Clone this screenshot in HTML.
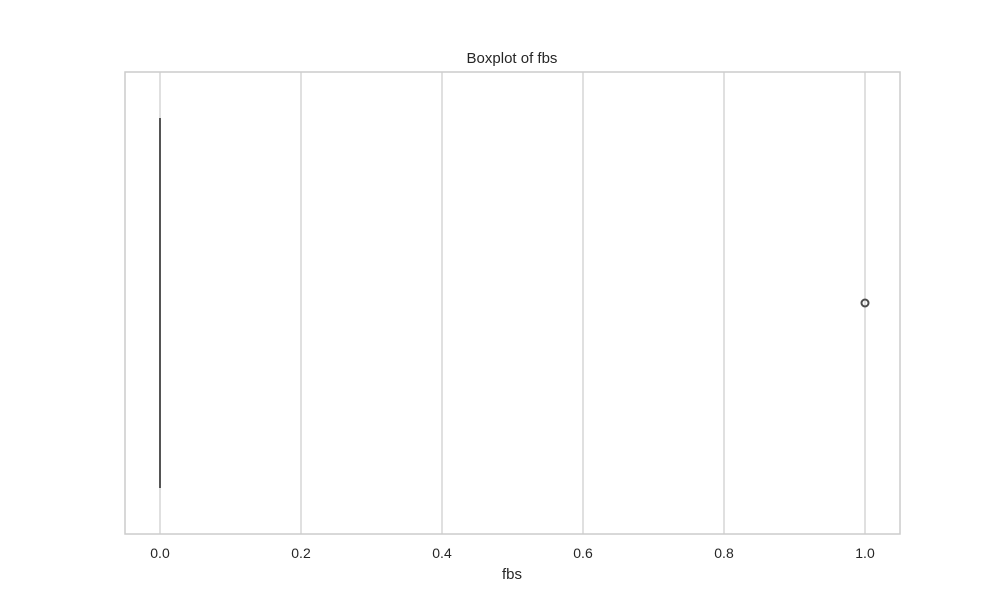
<!DOCTYPE html>
<html><head><meta charset="utf-8"><style>
body{margin:0;background:#fff;}
svg text{font-family:"Liberation Sans","DejaVu Sans",sans-serif;fill:#262626;}
</style></head><body>
<svg id="chart" width="1000" height="600" xmlns="http://www.w3.org/2000/svg">
<g id="grid"></g>
<g id="ticks"></g>
<g id="marks"></g>
<rect x="125" y="72" width="775" height="462" fill="none" stroke="#cccccc" stroke-width="1.5"/>
<text x="512" y="63" text-anchor="middle" font-size="15">Boxplot of fbs</text>
<text x="512" y="579" text-anchor="middle" font-size="15">fbs</text>
</svg>
<script>
const tickValues=[0,0.2,0.4,0.6,0.8,1.0];
const tickLabels=["0.0","0.2","0.4","0.6","0.8","1.0"];
const boxStats=[0,0,0,0,0]; // whiskerLow,q1,median,q3,whiskerHigh
const outliers=[1];
const NS="http://www.w3.org/2000/svg";
const x=v=>160+v*705;
const yTop=118,yBot=488,yMid=303;
function mk(t,a,p){const e=document.createElementNS(NS,t);for(const k in a)e.setAttribute(k,a[k]);p.appendChild(e);return e;}
const grid=document.getElementById('grid'),ticks=document.getElementById('ticks'),marks=document.getElementById('marks');
tickValues.forEach((v,i)=>{
 const l=mk('line',{x1:x(v),x2:x(v),y1:72,y2:534,stroke:'#cccccc','stroke-width':1.2},grid);
 
 
 const t=mk('text',{x:x(v),y:558,'text-anchor':'middle','font-size':14},ticks);
 t.textContent=tickLabels[i];
 
 
});
const [wl,q1,med,q3,wh]=boxStats;
const box=mk('rect',{x:x(q1)-1,y:yTop,width:Math.max(2,x(q3)-x(q1)+2),height:yBot-yTop,fill:'#555555'},marks);


const wk=mk('line',{x1:x(wl),x2:x(wh),y1:yMid,y2:yMid,stroke:'#555555','stroke-width':1.5},marks);


const md=mk('line',{x1:x(med),x2:x(med),y1:yTop,y2:yBot,stroke:'#555555','stroke-width':1},marks);


outliers.forEach(v=>{
 const c=mk('circle',{cx:x(v),cy:yMid,r:3.5,fill:'none',stroke:'#4c4c4c','stroke-width':2},marks);
 
 
});
</script>
</body></html>
